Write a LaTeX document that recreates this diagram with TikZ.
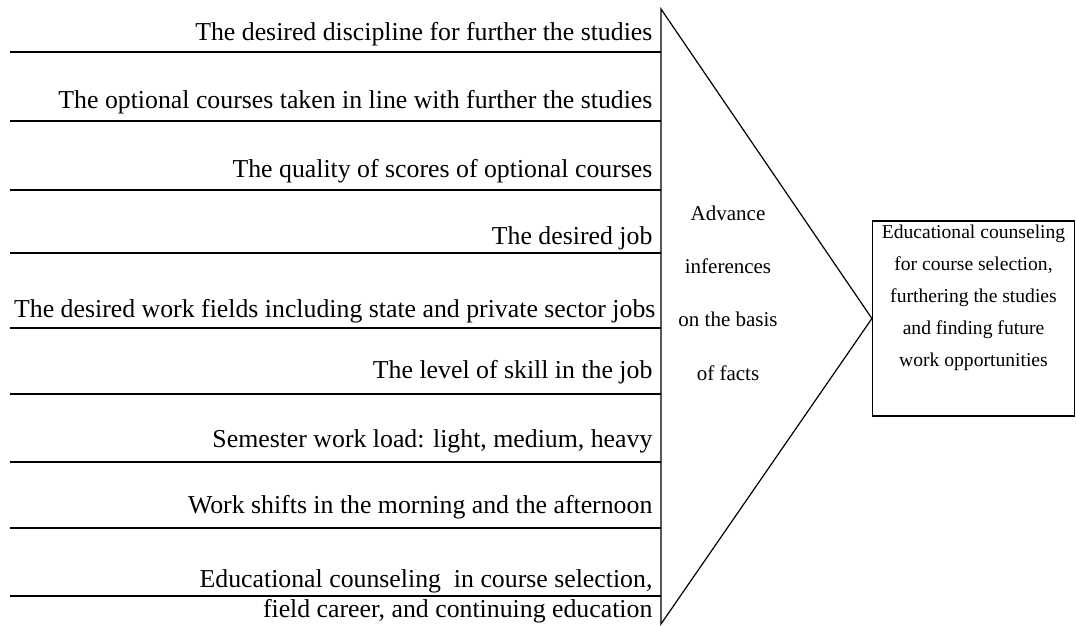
\documentclass[tikz,border=0pt]{standalone}
\usepackage{fontspec}
\setmainfont{Liberation Serif}
\usetikzlibrary{positioning}

\begin{document}
\begin{tikzpicture}[x=1pt,y=-1pt,line width=1.2pt,
        item/.style={anchor=base east,inner sep=0pt,font=\fontsize{25.8}{30}\selectfont},
        mid/.style={align=center,inner sep=0pt,font=\fontsize{21}{53.3}\selectfont},
        resbox/.style={draw,minimum width=202pt,minimum height=195pt,inner sep=0pt},
        restext/.style={align=center,inner sep=0pt,font=\fontsize{19.6}{32.2}\selectfont}]
        \useasboundingbox (0,0) rectangle (1076,626);
        % factors on the left
        \node[item] (disc) at (653,41) {The desired discipline for further the studies};
        \draw (10,52) -- (661,52);
        \node[item] (opt) at (653,108) {The optional courses taken in line with further the studies};
        \draw (10,121) -- (661,121);
        \node[item] (score) at (653,177) {The quality of scores of optional courses};
        \draw (10,190) -- (661,190);
        \node[item] (job) at (653,244) {The desired job};
        \draw (10,253) -- (661,253);
        \node[item] (field) at (656,317) {The desired work fields including state and private sector jobs};
        \draw (10,328) -- (661,328);
        \node[item] (skill) at (653,378) {The level of skill in the job};
        \draw (10,394) -- (661,394);
        \node[item] (load) at (653,447) {Semester work load: light, medium, heavy};
        \draw (10,462) -- (661,462);
        \node[item] (shift) at (653,513) {Work shifts in the morning and the afternoon};
        \draw (10,528) -- (661,528);
        \node[item,align=right] (couns) at (653,617) {Educational counseling\ \ in course selection,\\field career, and continuing education};
        \draw (10,596) -- (661,596);
        % triangle and result
        \coordinate (top) at (661,9);
        \coordinate (bot) at (661,624);
        \node[resbox] (res) at (973.5,318.5) {};
        \draw (top) -- (res.west) -- (bot) -- cycle;
        \node[mid] (infer) at (728,293) {Advance\\inferences\\on the basis\\of facts};
        \node[restext,below=3.5pt of res.north] (restxt) {Educational counseling\\for course selection,\\furthering the studies\\and finding future\\work opportunities};
    \end{tikzpicture}
\end{document}
